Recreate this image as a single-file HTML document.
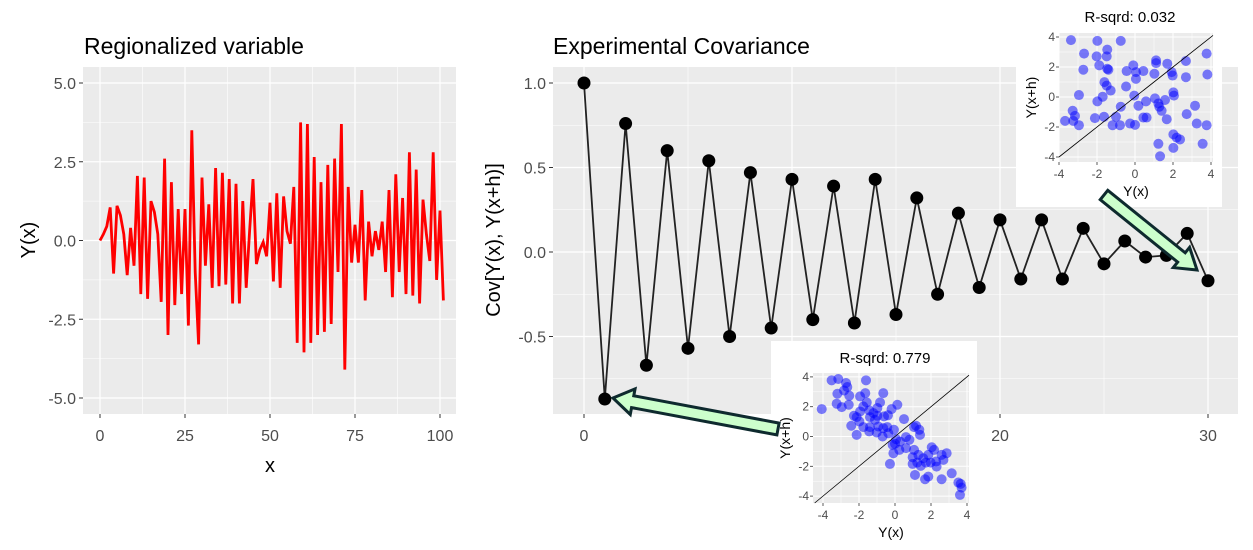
<!DOCTYPE html>
<html><head><meta charset="utf-8"><style>
html,body{margin:0;padding:0;background:#fff;}
svg{display:block;font-family:"Liberation Sans",Arial,sans-serif;}
</style></head><body>
<svg id="c" width="1253" height="550" viewBox="0 0 1253 550" xmlns="http://www.w3.org/2000/svg"></svg>
<script>
// ---- data: regionalized variable ----
const rvY = [0,0.2,0.45,1.05,-1.05,1.1,0.8,0.2,-1.1,0.4,-0.8,2.05,-1.7,2.0,-1.85,1.25,0.9,0.2,-1.95,2.6,-3.0,1.85,-2.05,1.0,-1.7,1.0,-2.7,3.5,-1.0,-3.3,2.0,-0.8,1.15,-1.5,2.3,-1.45,2.15,-1.4,1.95,-2.0,1.8,-2.0,1.25,-1.5,0.3,1.95,-0.75,-0.3,-0.05,-0.5,1.2,-1.3,1.5,-1.5,1.4,0.3,-0.1,1.7,-3.25,3.75,-3.55,3.7,-3.25,2.65,-3.0,1.85,-2.9,2.4,-2.65,2.6,-1.0,3.7,-4.1,1.7,-0.7,0.5,-0.7,1.6,-1.9,0.6,-0.5,0.3,-0.3,0.6,-1.0,1.6,-1.8,2.1,-1.0,1.35,-1.7,2.8,-1.75,2.25,-2.0,1.3,0.2,-0.65,2.8,-1.25,0.95,-1.9];
const rvXTicks = [0,25,50,75,100];
const rvYTicks = [5,2.5,0,-2.5,-5];
const rvYTickLabels = ["5.0","2.5","0.0","-2.5","-5.0"];
// ---- data: experimental covariance ----
const covLag = [0,1,2,3,4,5,6,7,8,9,10,11,12,13,14,15,16,17,18,19,20,21,22,23,24,25,26,27,28,29,30];
const covVal = [1.0,-0.87,0.76,-0.67,0.60,-0.57,0.54,-0.50,0.47,-0.45,0.43,-0.40,0.39,-0.42,0.43,-0.37,0.32,-0.25,0.23,-0.21,0.19,-0.16,0.19,-0.16,0.14,-0.07,0.065,-0.03,-0.02,0.11,-0.17];
const covXTicks = [0,10,20,30];
const covYTicks = [1,0.5,0,-0.5];
const covYTickLabels = ["1.0","0.5","0.0","-0.5"];
// ---- data: scatter insets ----
const lowX = [-3.37,-1.98,-0.75,-2.68,-2.02,-1.46,-1.49,-2.72,-1.88,-1.46,-1.40,-0.44,-0.09,0.05,0.44,0.05,1.11,1.11,1.70,1.93,1.98,2.68,2.68,3.77,3.81,1.02,-0.47,-1.61,-1.49,-1.28,-1.70,-2.95,-1.98,-0.75,0.18,0.58,-0.04,1.05,1.23,1.58,1.28,1.40,1.67,2.02,2.05,3.16,2.72,-3.28,-3.16,-3.68,-3.25,-2.95,-2.11,-1.63,-1.00,-1.18,-0.79,-0.26,0.00,0.44,0.61,2.02,2.19,2.37,1.23,2.02,1.32,3.56,3.77,3.25];
const lowY = [3.79,3.74,3.74,2.89,2.71,3.16,2.71,1.82,2.11,1.88,1.82,1.73,2.11,1.66,1.73,1.21,2.44,2.26,2.22,1.66,1.43,2.40,1.32,2.89,1.50,1.55,0.70,0.99,0.76,0.43,0.02,0.13,-0.29,-0.65,-0.58,-0.29,0.09,-0.09,-0.43,-0.20,-0.65,-0.92,-1.48,0.31,0.09,-0.58,-1.14,-0.92,-1.26,-1.59,-1.59,-1.88,-1.41,-1.32,-1.32,-1.88,-1.88,-1.77,-1.86,-1.37,-1.37,-2.49,-2.71,-2.83,-3.12,-3.39,-3.95,-3.12,-1.88,-1.77];
const highX = [-4.07,-3.52,-3.15,-2.72,-2.65,-2.83,-3.20,-2.54,-3.24,-2.96,-1.61,-1.94,-1.65,-1.57,-1.76,-1.94,-2.13,-1.98,-1.43,-1.20,-0.98,-0.83,-0.65,-0.19,0.13,-1.39,-1.11,-0.98,-0.61,-0.39,-1.76,-1.43,-0.93,-1.02,-0.65,-0.43,-0.69,-0.37,-0.06,0.06,-0.13,0.00,0.28,0.50,0.61,0.80,0.24,0.61,-0.09,-0.28,1.06,1.35,1.17,1.39,1.06,1.30,0.98,1.57,1.85,2.04,2.17,1.72,1.98,2.28,2.59,2.87,0.98,1.11,1.67,1.85,2.59,3.15,3.52,3.65,3.70,3.61,2.69,1.24,1.43,2.31,-2.13,-2.43,-2.28,-2.57,-1.39];
const highY = [1.84,3.77,3.86,3.59,3.32,3.09,2.87,2.74,2.20,1.97,3.77,2.69,2.91,2.29,2.02,1.68,1.30,1.01,1.75,1.57,1.91,2.29,2.91,1.84,2.13,1.30,1.12,1.39,1.35,1.43,0.63,0.34,0.67,0.27,0.56,0.63,0.00,0.22,0.45,-0.18,-0.56,-0.49,-0.34,1.17,-0.04,-0.22,-0.90,-0.78,-1.12,-1.84,0.63,0.45,0.72,0.11,-0.90,-1.23,-1.39,-1.46,-1.23,-0.72,-0.90,-1.75,-1.75,-1.68,-1.23,-1.12,-1.84,-2.58,-2.87,-2.69,-2.87,-2.47,-3.09,-3.18,-3.43,-3.92,-1.57,-1.75,-1.97,-2.02,0.11,0.72,1.39,2.13,0.63];
const insetTicks = [-4,-2,0,2,4];

const NS = "http://www.w3.org/2000/svg";
const svg = document.getElementById('c');
function mk(tag, attrs, parent){ const e=document.createElementNS(NS,tag); for(const k in attrs) e.setAttribute(k,attrs[k]); (parent||svg).appendChild(e); return e; }
function txt(s, attrs, parent){ const e=mk('text',attrs,parent); e.textContent=s; return e; }
function lin(d0,d1,r0,r1){ return v => r0 + (v-d0)*(r1-r0)/(d1-d0); }

// ===== Left panel =====
{
  const L=83,R=456,T=67,B=414;
  const sx=lin(0,100,100,440), sy=lin(0,5,240.5,83);
  const bg=mk('rect',{x:L,y:T,width:R-L,height:B-T,fill:'#EBEBEB'});
  
  
  [12.5,37.5,62.5,87.5].forEach(v=>mk('line',{x1:sx(v),x2:sx(v),y1:T,y2:B,stroke:'#fff','stroke-width':0.6}));
  [3.75,1.25,-1.25,-3.75].forEach(v=>mk('line',{x1:L,x2:R,y1:sy(v),y2:sy(v),stroke:'#fff','stroke-width':0.6}));
  rvXTicks.forEach(v=>{
    mk('line',{x1:sx(v),x2:sx(v),y1:T,y2:B,stroke:'#fff','stroke-width':1.2});
    mk('line',{x1:sx(v),x2:sx(v),y1:B,y2:B+4,stroke:'#333','stroke-width':1});
    const t=txt(String(v),{x:sx(v),y:B+27,'text-anchor':'middle','font-size':16,fill:'#4D4D4D'});
    
    
  });
  rvYTicks.forEach((v,i)=>{
    mk('line',{x1:L,x2:R,y1:sy(v),y2:sy(v),stroke:'#fff','stroke-width':1.2});
    mk('line',{x1:L-4,x2:L,y1:sy(v),y2:sy(v),stroke:'#333','stroke-width':1});
    const t=txt(rvYTickLabels[i],{x:L-7,y:sy(v)+6,'text-anchor':'end','font-size':16,fill:'#4D4D4D'});
    
    
  });
  const pts=rvY.map((y,i)=>sx(i).toFixed(1)+','+sy(y).toFixed(1)).join(' ');
  const pl=mk('polyline',{points:pts,fill:'none',stroke:'#FF0000','stroke-width':2.8,'stroke-linejoin':'miter'});
  
  
  const ti=txt('Regionalized variable',{x:84,y:54,'font-size':23,fill:'#000'});
  
  
  const xt=txt('x',{x:270,y:472,'text-anchor':'middle','font-size':20,fill:'#000'});
  
  
  const yt=txt('Y(x)',{x:0,y:0,'text-anchor':'middle','font-size':20,fill:'#000',transform:'translate(35,240) rotate(-90)'});
  
  
}

// ===== Right main panel =====
{
  const L=553,R=1238,T=67,B=414;
  const sx=lin(0,30,584,1208), sy=lin(0,1,252,83);
  const bg=mk('rect',{x:L,y:T,width:R-L,height:B-T,fill:'#EBEBEB'});
  
  
  [5,15,25].forEach(v=>mk('line',{x1:sx(v),x2:sx(v),y1:T,y2:B,stroke:'#fff','stroke-width':0.6}));
  [0.75,0.25,-0.25,-0.75].forEach(v=>mk('line',{x1:L,x2:R,y1:sy(v),y2:sy(v),stroke:'#fff','stroke-width':0.6}));
  covXTicks.forEach(v=>{
    mk('line',{x1:sx(v),x2:sx(v),y1:T,y2:B,stroke:'#fff','stroke-width':1.2});
    mk('line',{x1:sx(v),x2:sx(v),y1:B,y2:B+4,stroke:'#333','stroke-width':1});
    const t=txt(String(v),{x:sx(v),y:B+27,'text-anchor':'middle','font-size':16,fill:'#4D4D4D'});
    
    
  });
  covYTicks.forEach((v,i)=>{
    mk('line',{x1:L,x2:R,y1:sy(v),y2:sy(v),stroke:'#fff','stroke-width':1.2});
    mk('line',{x1:L-4,x2:L,y1:sy(v),y2:sy(v),stroke:'#333','stroke-width':1});
    const t=txt(covYTickLabels[i],{x:L-7,y:sy(v)+6,'text-anchor':'end','font-size':16,fill:'#4D4D4D'});
    
    
  });
  const pts=covLag.map((h,i)=>sx(h).toFixed(1)+','+sy(covVal[i]).toFixed(1)).join(' ');
  const pl=mk('polyline',{points:pts,fill:'none',stroke:'#222','stroke-width':1.8});
  
  
  covLag.forEach((h,i)=>{
    const c=mk('circle',{cx:sx(h),cy:sy(covVal[i]),r:6.5,fill:'#000'});
    
    
  });
  const ti=txt('Experimental Covariance',{x:553,y:54,'font-size':23,fill:'#000'});
  
  
  const yt=txt('Cov[Y(x), Y(x+h)]',{x:0,y:0,'text-anchor':'middle','font-size':20,fill:'#000',transform:'translate(500,240) rotate(-90)'});
  
  
}

// ===== Scatter insets =====
function inset(box, panel, xs, ys, title, name){
  const g=mk('g',{});
  
  
  mk('rect',{x:box[0],y:box[1],width:box[2],height:box[3],fill:'#fff'},g);
  const [L,T,R,B,x0,xu,y0,yu]=panel;
  const sx=v=>x0+v*xu, sy=v=>y0-v*yu;
  mk('rect',{x:L,y:T,width:R-L,height:B-T,fill:'#EBEBEB'},g);
  [-3,-1,1,3].forEach(v=>{
    if(sx(v)>L&&sx(v)<R) mk('line',{x1:sx(v),x2:sx(v),y1:T,y2:B,stroke:'#fff','stroke-width':0.5},g);
    if(sy(v)>T&&sy(v)<B) mk('line',{x1:L,x2:R,y1:sy(v),y2:sy(v),stroke:'#fff','stroke-width':0.5},g);
  });
  insetTicks.forEach(v=>{
    if(sx(v)>=L-1&&sx(v)<=R+1){
      mk('line',{x1:sx(v),x2:sx(v),y1:T,y2:B,stroke:'#fff','stroke-width':1},g);
      mk('line',{x1:sx(v),x2:sx(v),y1:B,y2:B+3,stroke:'#333','stroke-width':0.8},g);
      const t=txt(String(v),{x:sx(v),y:B+16,'text-anchor':'middle','font-size':12,fill:'#4D4D4D'},g);
      
      
    }
    if(sy(v)>=T-1&&sy(v)<=B+1){
      mk('line',{x1:L,x2:R,y1:sy(v),y2:sy(v),stroke:'#fff','stroke-width':1},g);
      mk('line',{x1:L-3,x2:L,y1:sy(v),y2:sy(v),stroke:'#333','stroke-width':0.8},g);
      const t=txt(String(v),{x:L-4,y:sy(v)+4,'text-anchor':'end','font-size':12,fill:'#4D4D4D'},g);
      
      
    }
  });
  xs.forEach((x,i)=>{
    const c=mk('circle',{cx:sx(x),cy:sy(ys[i]),r:5,fill:'#0000FF','fill-opacity':0.5},g);
    
    
  });
  const lo=Math.max((L-x0)/xu,(y0-B)/yu), hi=Math.min((R-x0)/xu,(y0-T)/yu);
  mk('line',{x1:sx(lo),y1:sy(lo),x2:sx(hi),y2:sy(hi),stroke:'#000','stroke-width':0.8},g);
  const tt=txt(title,{x:(L+R)/2-6,y:box[1]+22,'text-anchor':'middle','font-size':15,fill:'#000'},g);
  
  
  const xt=txt('Y(x)',{x:(L+R)/2,y:B+34,'text-anchor':'middle','font-size':14,fill:'#000'},g);
  
  
  const yt=txt('Y(x+h)',{x:0,y:0,'text-anchor':'middle','font-size':14,fill:'#000',transform:'translate('+(L-23)+','+((T+B)/2)+') rotate(-90)'},g);
  
  
}
inset([1016,0,206,207],[1059,33,1213,162,1135,19,97,15],lowX,lowY,'R-sqrd: 0.032','inset-lag-30');
inset([771,341,206,209],[813,373,969,503,895,18,436.5,14.9],highX,highY,'R-sqrd: 0.779','inset-lag-1');

// ===== Arrows =====
function arrow(x1,y1,x2,y2,name){
  const L=Math.hypot(x2-x1,y2-y1), a=Math.atan2(y2-y1,x2-x1)*180/Math.PI;
  const sw=6, hw=13, hl=20;
  const p=[[0,-sw],[L-hl,-sw],[L-hl,-hw],[L,0],[L-hl,hw],[L-hl,sw],[0,sw]].map(q=>q.join(',')).join(' ');
  const e=mk('polygon',{points:p,fill:'#CCFFCC',stroke:'#0E2A2E','stroke-width':3,'stroke-linejoin':'miter',transform:'translate('+x1+','+y1+') rotate('+a+')'});
  
  
}
arrow(778,429,613,398,'arrow-to-lag-1');
arrow(1104,195,1197,270,'arrow-to-lag-30');
</script>
</body></html>
